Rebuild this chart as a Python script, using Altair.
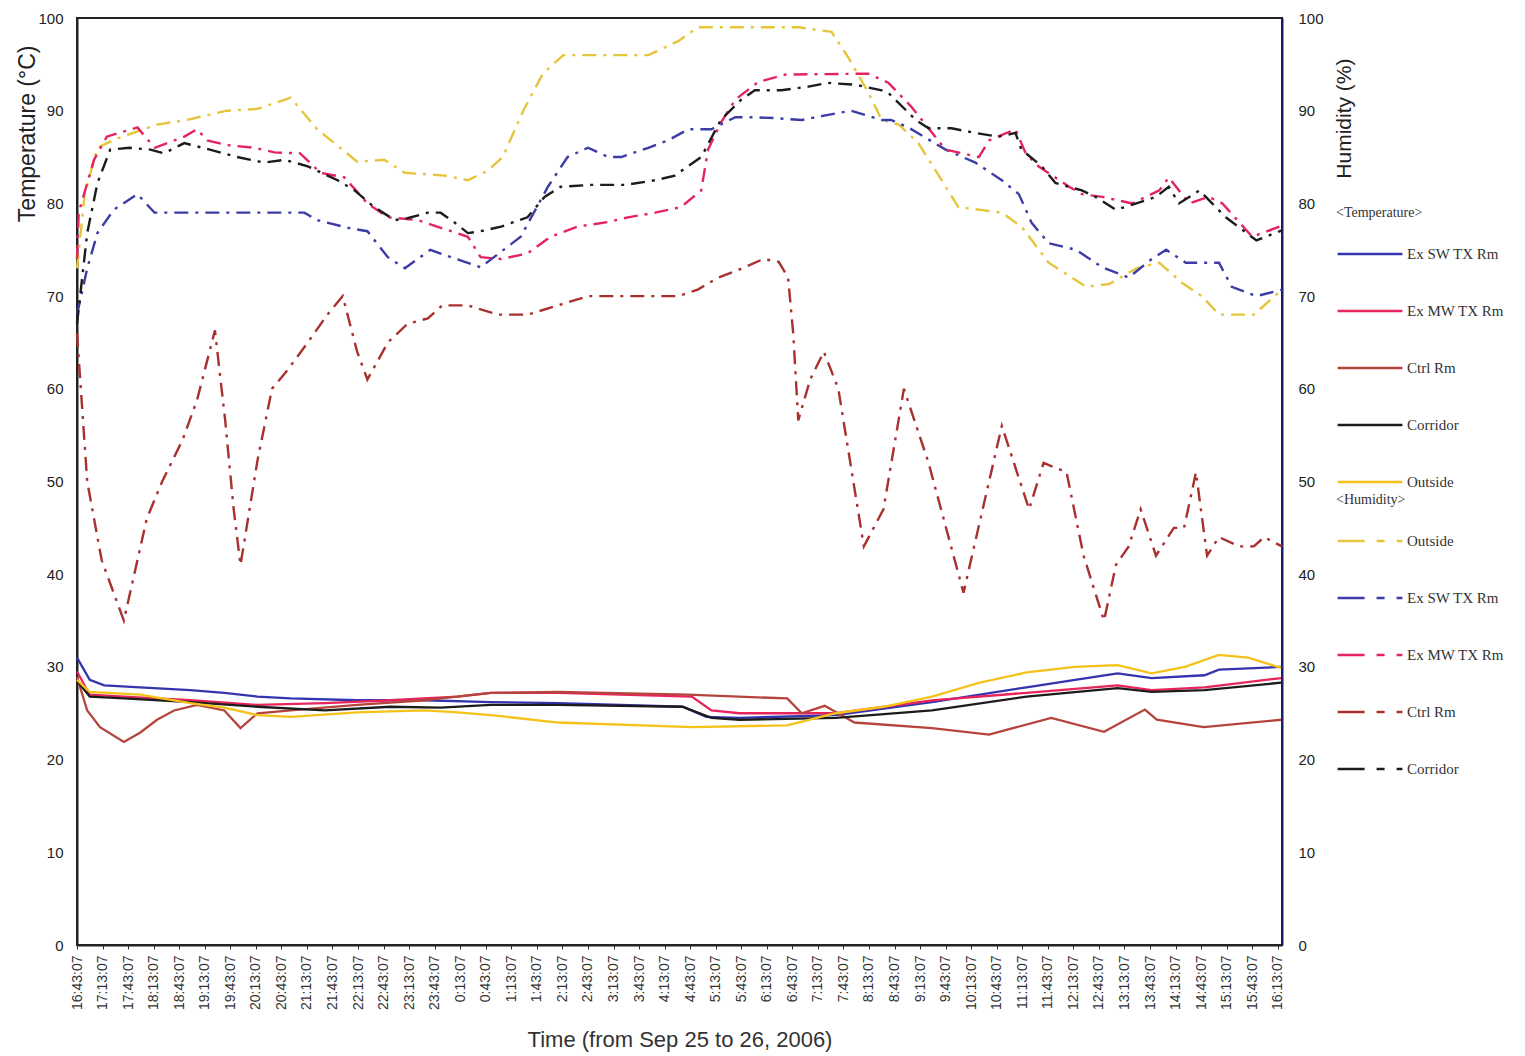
import json
import altair as alt
import pandas as pd

# ---------------- data ----------------
TICK_LABELS = [
    "16:43:07", "17:13:07", "17:43:07", "18:13:07", "18:43:07", "19:13:07", "19:43:07",
    "20:13:07", "20:43:07", "21:13:07", "21:43:07", "22:13:07", "22:43:07", "23:13:07",
    "23:43:07", "0:13:07", "0:43:07", "1:13:07", "1:43:07", "2:13:07", "2:43:07",
    "3:13:07", "3:43:07", "4:13:07", "4:43:07", "5:13:07", "5:43:07", "6:13:07",
    "6:43:07", "7:13:07", "7:43:07", "8:13:07", "8:43:07", "9:13:07", "9:43:07",
    "10:13:07", "10:43:07", "11:13:07", "11:43:07", "12:13:07", "12:43:07", "13:13:07",
    "13:43:07", "14:13:07", "14:43:07", "15:13:07", "15:43:07", "16:13:07",
]
TICK_MINUTES = [30 * i for i in range(len(TICK_LABELS))]  # minutes after 16:43:07

TEMP_SERIES = ["Ex SW TX Rm", "Ex MW TX Rm", "Ctrl Rm", "Corridor", "Outside"]
TEMP_COLORS = ["#3434b0", "#e8245c", "#b5453c", "#1c1c1c", "#f5c21a"]
HUM_SERIES = ["Outside", "Ex SW TX Rm", "Ex MW TX Rm", "Ctrl Rm", "Corridor"]
HUM_COLORS = ["#e6c53c", "#3c3ca6", "#e4245e", "#a8302e", "#1c1c1c"]

# temperature (deg C) -- minutes after start / value
t_sw_min = [0, 15, 32, 74, 133, 173, 212, 251, 329, 408, 486, 565, 711, 739, 778, 891, 1004, 1115, 1172, 1222, 1262, 1324, 1341, 1414]
t_sw_val = [31, 28.6, 28, 27.8, 27.5, 27.2, 26.8, 26.6, 26.4, 26.4, 26.2, 26.1, 25.7, 24.6, 24.5, 24.8, 26.2, 27.8, 28.6, 29.3, 28.8, 29.1, 29.7, 30]

t_mw_min = [0, 15, 55, 133, 212, 291, 368, 447, 486, 565, 722, 745, 778, 891, 1004, 1115, 1222, 1262, 1324, 1414]
t_mw_val = [29.5, 27, 26.8, 26.4, 25.9, 26.1, 26.4, 26.8, 27.2, 27.2, 26.8, 25.3, 25, 25, 26.4, 27.2, 28, 27.5, 27.8, 28.8]

t_ctrl_min = [0, 12, 27, 55, 74, 94, 114, 141, 173, 192, 212, 251, 329, 408, 427, 486, 565, 717, 834, 851, 878, 913, 1004, 1071, 1144, 1206, 1254, 1268, 1323, 1414]
t_ctrl_val = [28.9, 25.3, 23.5, 21.9, 22.9, 24.3, 25.3, 25.9, 25.3, 23.4, 25, 25.3, 25.9, 26.4, 26.6, 27.2, 27.3, 27, 26.6, 25, 25.8, 24, 23.4, 22.7, 24.5, 23, 25.4, 24.3, 23.5, 24.3]

t_cor_min = [0, 15, 55, 133, 212, 291, 368, 427, 486, 565, 711, 745, 778, 891, 1004, 1115, 1222, 1262, 1324, 1414]
t_cor_val = [28.5, 26.8, 26.6, 26.2, 25.7, 25.3, 25.7, 25.6, 25.9, 25.9, 25.7, 24.5, 24.3, 24.5, 25.3, 26.8, 27.7, 27.3, 27.5, 28.3]

t_out_min = [0, 15, 74, 133, 173, 212, 251, 329, 408, 447, 486, 565, 722, 834, 891, 947, 1004, 1060, 1115, 1172, 1222, 1262, 1301, 1341, 1375, 1414]
t_out_val = [28.6, 27.3, 27, 26.1, 25.6, 24.8, 24.6, 25.1, 25.3, 25.1, 24.8, 24, 23.5, 23.7, 25, 25.7, 26.8, 28.3, 29.4, 30, 30.2, 29.3, 30, 31.3, 31, 29.9]

# humidity (%)
h_out_min = [0, 9, 24, 47, 94, 129, 176, 212, 251, 282, 309, 329, 361, 385, 432, 459, 482, 500, 524, 547, 571, 671, 706, 729, 847, 886, 906, 929, 945, 965, 988, 1012, 1035, 1086, 1109, 1141, 1185, 1212, 1244, 1271, 1298, 1321, 1341, 1382, 1415]
h_out_val = [73, 81, 86, 87, 88.5, 89, 90, 90.2, 91.4, 88, 86, 84.5, 84.7, 83.3, 83, 82.5, 83.5, 85, 90, 94, 96, 96, 97.5, 99, 99, 98.5, 95.7, 92, 89, 88.5, 86.5, 83, 79.6, 79, 77.5, 73.6, 71, 71.3, 73, 73.6, 71.4, 70, 68, 68, 70.7]

h_sw_min = [0, 12, 24, 43, 71, 91, 267, 282, 321, 341, 365, 385, 415, 439, 474, 521, 553, 576, 600, 624, 639, 671, 694, 718, 745, 773, 792, 820, 851, 879, 909, 945, 956, 976, 1020, 1055, 1086, 1106, 1121, 1141, 1173, 1204, 1235, 1262, 1279, 1302, 1341, 1356, 1385, 1415]
h_sw_val = [68, 73, 76.8, 79.3, 81, 79, 79, 78.2, 77.3, 77, 74.2, 73, 75, 74.2, 73.1, 76.4, 81.8, 85, 86, 85, 85, 86, 86.8, 88, 88, 89.3, 89.3, 89.2, 89, 89.5, 90, 89, 89, 88.2, 85.8, 84.4, 82.5, 81, 77.9, 75.7, 75, 73.1, 72, 74, 75, 73.6, 73.6, 71, 70, 70.7]

h_mw_min = [0, 2, 20, 35, 71, 91, 126, 141, 153, 176, 208, 232, 262, 286, 314, 341, 365, 400, 459, 474, 498, 529, 556, 588, 624, 647, 679, 709, 733, 741, 756, 773, 800, 832, 929, 953, 980, 1020, 1059, 1071, 1102, 1114, 1129, 1165, 1180, 1204, 1239, 1271, 1282, 1306, 1329, 1345, 1380, 1412]
h_mw_val = [74, 79, 84.7, 87.2, 88.2, 86, 87.2, 88, 86.8, 86.3, 86, 85.5, 85.4, 83.3, 82.8, 80, 78.5, 78.2, 76.4, 74.2, 74, 74.6, 76.4, 77.5, 78, 78.5, 79, 79.6, 81.4, 85.8, 88.7, 91.2, 93.1, 93.9, 94, 93, 90.4, 85.8, 85, 86.8, 88, 85.4, 84, 81.8, 81, 80.7, 80, 81.4, 82.8, 80, 80.7, 80, 76.4, 77.5]

h_ctrl_min = [0, 12, 29, 55, 82, 100, 124, 141, 162, 174, 184, 192, 212, 229, 247, 271, 294, 312, 329, 341, 365, 388, 412, 429, 459, 494, 529, 565, 600, 706, 729, 753, 776, 806, 824, 835, 841, 847, 861, 877, 894, 924, 947, 971, 1000, 1041, 1086, 1118, 1135, 1162, 1182, 1206, 1220, 1235, 1249, 1267, 1288, 1300, 1314, 1327, 1341, 1365, 1382, 1394, 1415]
h_ctrl_val = [66, 50, 41.5, 35, 46, 50, 54.5, 58.8, 66.3, 56.6, 47, 41, 52.3, 60, 62, 65, 68, 70, 64, 61, 65, 67, 67.6, 69, 69, 68, 68, 69, 70, 70, 70.7, 72, 72.8, 74, 73.7, 72, 66, 56.6, 61, 64, 60, 43, 47, 60, 52, 38, 56, 47, 52, 51, 42, 35, 41, 43, 47, 42, 45, 45, 51, 42, 44, 43, 43, 44, 43]

h_cor_min = [0, 12, 24, 39, 62, 86, 102, 126, 156, 188, 220, 244, 271, 306, 326, 349, 373, 388, 412, 427, 444, 459, 474, 498, 529, 549, 568, 604, 644, 679, 702, 733, 756, 780, 796, 827, 859, 882, 914, 945, 953, 985, 1000, 1027, 1055, 1082, 1102, 1109, 1133, 1149, 1180, 1196, 1220, 1244, 1267, 1282, 1294, 1318, 1349, 1385, 1415]
h_cor_val = [67, 76.8, 82.2, 85.8, 86, 85.8, 85.4, 86.5, 85.8, 85, 84.4, 84.7, 84, 82.5, 81.4, 79.6, 78.2, 78.4, 79, 79, 77.9, 76.8, 77, 77.5, 78.5, 80.7, 81.8, 82, 82, 82.5, 83, 85, 89, 91.2, 92.2, 92.2, 92.6, 93, 92.8, 92.2, 91.9, 89, 88.1, 88.1, 87.6, 87.2, 87.6, 85.8, 84, 82.2, 81.4, 80.7, 79.3, 80, 80.7, 81.8, 80, 81.4, 78.5, 76, 77.1]

# ---------------- tables ----------------
def rows(name, mins, vals, key):
    return [{"minute": m, "value": v, key: name} for m, v in zip(mins, vals)]

temp_rows = (rows("Ex SW TX Rm", t_sw_min, t_sw_val, "tser")
             + rows("Ex MW TX Rm", t_mw_min, t_mw_val, "tser")
             + rows("Ctrl Rm", t_ctrl_min, t_ctrl_val, "tser")
             + rows("Corridor", t_cor_min, t_cor_val, "tser")
             + rows("Outside", t_out_min, t_out_val, "tser"))
hum_rows = (rows("Outside", h_out_min, h_out_val, "hser")
            + rows("Ex SW TX Rm", h_sw_min, h_sw_val, "hser")
            + rows("Ex MW TX Rm", h_mw_min, h_mw_val, "hser")
            + rows("Ctrl Rm", h_ctrl_min, h_ctrl_val, "hser")
            + rows("Corridor", h_cor_min, h_cor_val, "hser"))
df_t = pd.DataFrame(temp_rows)
df_h = pd.DataFrame(hum_rows)

SANS = "Liberation Sans"
SERIF = "Liberation Serif"

label_expr = json.dumps(TICK_LABELS) + "[round(datum.value / 30)]"

x_enc = alt.X(
    "minute:Q",
    scale=alt.Scale(domain=[0, 1415], nice=False, zero=False),
    axis=alt.Axis(
        values=TICK_MINUTES, labelExpr=label_expr, labelAngle=-90,
        labelFont=SANS, labelFontSize=14, labelColor="#333", labelPadding=6,
        labelOverlap=False, labelFlush=False,
        grid=False, tickSize=4, tickColor="#333", domainColor="#222", domainWidth=2,
        title="Time (from Sep 25 to 26, 2006)", titleFont=SANS, titleFontSize=22,
        titleFontWeight="normal", titleColor="#333", titlePadding=20,
    ),
)

legend_common = dict(
    orient="none", titleFont=SERIF, titleFontSize=14, titleFontWeight="normal",
    titleColor="#333", titlePadding=0, labelFont=SERIF, labelFontSize=15,
    labelColor="#333", labelOffset=3, symbolType="stroke", symbolSize=4200,
    symbolStrokeWidth=2.5, rowPadding=15,
)

temp = alt.Chart(df_t).mark_line(strokeWidth=2.3).encode(
    x=x_enc,
    y=alt.Y("value:Q", scale=alt.Scale(domain=[0, 100], nice=False),
            axis=alt.Axis(orient="left", values=list(range(0, 101, 10)), grid=False,
                          ticks=False, labelFont=SANS, labelFontSize=15, labelColor="#222",
                          labelPadding=14, domainColor="#222", domainWidth=2,
                          title="Temperature (°C)", titleFont=SANS, titleFontSize=23,
                          titleFontWeight="normal", titleColor="#222",
                          titleAngle=-90, titleAlign="right", titleBaseline="middle",
                          titleX=-50, titleY=27)),
    color=alt.Color("tser:N", scale=alt.Scale(domain=TEMP_SERIES, range=TEMP_COLORS),
                    legend=alt.Legend(title="<Temperature>", legendX=1259, legendY=188,
                                      **legend_common)),
    detail="tser:N",
)

hum = alt.Chart(df_h).mark_line(strokeWidth=2.4, strokeDash=[14, 7, 3, 7]).encode(
    x=x_enc,
    y=alt.Y("value:Q", scale=alt.Scale(domain=[0, 100], nice=False),
            axis=alt.Axis(orient="right", values=list(range(0, 101, 10)), grid=False,
                          ticks=False, labelFont=SANS, labelFontSize=15, labelColor="#222",
                          labelPadding=16, domainColor="#1d1d6a", domainWidth=2,
                          title="Humidity (%)", titleFont=SANS, titleFontSize=21,
                          titleFontWeight="normal", titleColor="#222",
                          titleAngle=-90, titleAlign="right", titleBaseline="middle",
                          titleX=62, titleY=40)),
    stroke=alt.Stroke("hser:N", scale=alt.Scale(domain=HUM_SERIES, range=HUM_COLORS),
                      legend=alt.Legend(title="<Humidity>", legendX=1259, legendY=475,
                                        symbolDash=[27, 12, 8, 12], **legend_common)),
    detail="hser:N",
)

chart = (
    alt.layer(temp, hum)
    .resolve_scale(y="independent")
    .properties(width=1205, height=927,
                padding={"left": 7, "top": 3, "right": 5, "bottom": 5},
                background="white")
    .configure_view(stroke="#222", strokeWidth=2)
)

chart.save("out.html", embed_options={"renderer": "svg", "actions": False})
